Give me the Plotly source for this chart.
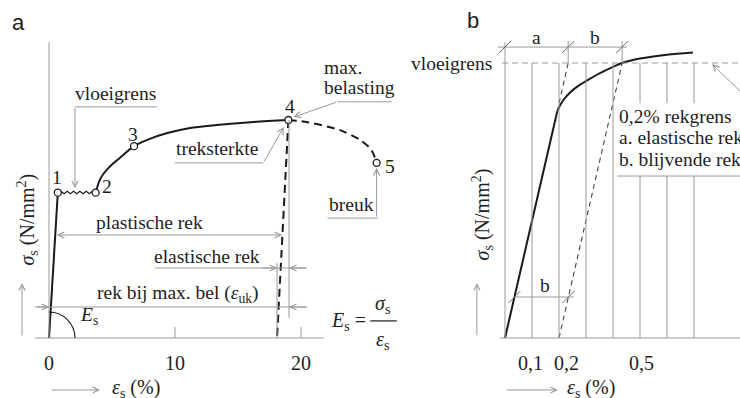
import plotly.graph_objects as go

# ---------------- data : panel a (full stress-strain diagram) ----------------
a_elastic_eps = [0.0, 0.7]
a_elastic_sig = [0, 400]
a_plateau_eps = [0.7, 0.95, 1.2, 1.45, 1.7, 1.95, 2.2, 2.45, 2.7, 2.95, 3.2, 3.45, 3.7]
a_plateau_sig = [400, 404, 397, 404, 397, 404, 397, 404, 397, 404, 397, 404, 400]
a_harden_eps = [3.7, 4.1, 4.8, 5.6, 6.75, 8.0, 9.4, 11.2, 13.3, 16.0, 19.0]
a_harden_sig = [400, 440, 471, 495, 528, 548, 564, 578, 586, 594, 600]
a_neck_eps = [19.0, 20.5, 23.1, 24.7, 25.6, 26.0]
a_neck_sig = [600, 594, 572, 545, 517, 482]
a_unload_eps = [19.0, 18.1]
a_unload_sig = [600, 0]
a_point_eps = [0.7, 3.7, 6.75, 19.0, 26.0]
a_point_sig = [400, 400, 528, 600, 482]
a_point_lbl = ["1", "2", "3", "4", "5"]
a_xticks = [0, 10, 20]
a_xtick_text = ["0", "10", "20"]

# ---------------- data : panel b (0,2% proof stress detail) ----------------
b_elastic_eps = [0.0, 0.193]
b_elastic_sig = [0, 411]
b_curve_eps = [0.193, 0.205, 0.220, 0.240, 0.270, 0.300, 0.350, 0.400, 0.434, 0.500, 0.600, 0.696]
b_curve_sig = [411, 424, 435, 446, 458, 467, 481, 493, 500, 508, 515, 519]
b_ext_eps = [0.193, 0.234]
b_ext_sig = [411, 500]
b_offset_eps = [0.2, 0.434]
b_offset_sig = [0, 500]
b_yield = 500
b_grid = [0.1, 0.2, 0.3, 0.4, 0.5, 0.6, 0.7]
b_xticks = [0.1, 0.2, 0.5]
b_xtick_text = ["0,1", "0,2", "0,5"]

# ---------------- styling ----------------
SERIF = "Liberation Serif"
SANS = "Liberation Sans"
TXT = "#1e1e1e"
GRAY = "#9a9a9a"
BLACK = "#1a1a1a"
FS = 19.5

fig = go.Figure()

def tr(x, y, ax, width=2, dash=None, color=BLACK, shape="linear"):
    xa, ya = ("x", "y") if ax == "a" else ("x2", "y2")
    fig.add_trace(go.Scatter(x=x, y=y, xaxis=xa, yaxis=ya, mode="lines",
                             line=dict(color=color, width=width, dash=dash, shape=shape,
                                       smoothing=0.8),
                             hoverinfo="skip", showlegend=False))

# panel a curves
tr(a_elastic_eps, a_elastic_sig, "a", 2)
tr(a_plateau_eps, a_plateau_sig, "a", 1.1)
tr(a_harden_eps, a_harden_sig, "a", 2, shape="spline")
tr(a_neck_eps, a_neck_sig, "a", 2, "8px,5px", shape="spline")
tr(a_unload_eps, a_unload_sig, "a", 2, "8px,5px")
fig.add_trace(go.Scatter(x=a_point_eps, y=a_point_sig, xaxis="x", yaxis="y", mode="markers",
                         marker=dict(symbol="circle", size=7, color="white",
                                     line=dict(color=BLACK, width=1.3)),
                         hoverinfo="skip", showlegend=False))
# panel b curves
tr(b_elastic_eps, b_elastic_sig, "b", 2)
tr(b_curve_eps, b_curve_sig, "b", 2, shape="spline")
tr(b_ext_eps, b_ext_sig, "b", 1.1, "5px,4px", "#444")
tr(b_offset_eps, b_offset_sig, "b", 1.1, "5px,4px", "#444")

shapes = []
annos = []

def ref(ax):
    return ("x", "y") if ax == "a" else ("x2", "y2")

def seg(ax, x0, y0, x1, y1, color=GRAY, width=1, dash=None):
    xr, yr = ref(ax)
    shapes.append(dict(type="line", xref=xr, yref=yr, x0=x0, y0=y0, x1=x1, y1=y1,
                       line=dict(color=color, width=width, dash=dash)))

def text(ax, x, y, s, size=FS, xanchor="center", yanchor="middle", angle=0, font=SERIF, xshift=0):
    if ax == "paper":
        xr, yr = "paper", "paper"
    else:
        xr, yr = ref(ax)
    annos.append(dict(xref=xr, yref=yr, x=x, y=y, text=s, showarrow=False,
                      xanchor=xanchor, yanchor=yanchor, textangle=angle, xshift=xshift,
                      font=dict(family=font, size=size, color=TXT)))

def arrow(ax, xt, yt, xs, ys, both=False, size=1.2):
    xr, yr = ref(ax)
    annos.append(dict(xref=xr, yref=yr, axref=xr, ayref=yr, x=xt, y=yt, ax=xs, ay=ys,
                      text="", showarrow=True, arrowhead=5, startarrowhead=5,
                      arrowside="end+start" if both else "end",
                      arrowsize=size, startarrowsize=size, arrowwidth=1,
                      arrowcolor=GRAY, standoff=0, startstandoff=0))

# ---------- panel a decorations ----------
seg("a", -1.1, 0, 21.8, 0)
seg("a", 0, 0, 0, 815)
for t, lab in zip(a_xticks, a_xtick_text):
    if t != 0:
        seg("a", t, 0, t, 30)
    text("a", t, -69, lab, size=20)
# extension lines
seg("a", a_unload_eps[1], 0, a_unload_eps[1], 206)
seg("a", 19.05, 55, 19.05, 600)
# plastische rek
arrow("a", 18.5, 283.5, 0.5, 283.5, both=True)
text("a", 8.0, 318, "plastische rek")
# elastische rek
seg("a", 8.4, 192.7, 20.5, 192.7)
arrow("a", 18.1, 192.7, 16.8, 192.7)
arrow("a", 19.05, 192.7, 20.5, 192.7)
text("a", 16.9, 225, "elastische rek", xanchor="right")
# rek bij max. bel
seg("a", -1.1, 85.3, 20.5, 85.3)
arrow("a", 0, 85.3, -1.1, 85.3)
arrow("a", 19.05, 85.3, 20.5, 85.3)
text("a", 10.24, 120, "rek bij max. bel (<i>ε</i><sub>uk</sub>)")
# E_s arc
shapes.append(dict(type="path", xref="x", yref="y",
                   path="M 0,71.56 C 1.139,71.56 2.063,39.52 2.063,0",
                   line=dict(color=BLACK, width=1.1)))
text("a", 2.3, 60, "<i>E</i><sub>s</sub>", xanchor="left")
# treksterkte
seg("a", 10.0, 482, 17.0, 482)
arrow("a", 18.65, 581, 17.0, 482)
text("a", 13.3, 522, "treksterkte")
# vloeigrens
seg("a", 2.06, 636, 8.57, 636)
arrow("a", 2.06, 412, 2.06, 636)
text("a", 5.3, 674, "vloeigrens")
# max. belasting
seg("a", 22.9, 650, 27.2, 650)
arrow("a", 19.4, 608, 22.9, 650)
text("a", 21.67, 745, "max.", xanchor="left")
text("a", 21.67, 690, "belasting", xanchor="left")
# breuk
seg("a", 22.1, 330, 26.1, 330)
arrow("a", 26.0, 468, 26.0, 330)
text("a", 24.0, 368, "breuk")
# point labels
lbl_off = [(-0.07, 43), (0.9, 16), (-0.08, 31), (0.1, 36), (1.1, -11)]
for e, s, l, (dx, dy) in zip(a_point_eps, a_point_sig, a_point_lbl, lbl_off):
    text("a", e + dx, s + dy, l)
# formula E_s = sigma_s / eps_s
text("a", 25.3, 46, "<i>E</i><sub>s</sub> =", xanchor="right", size=20)
seg("a", 25.5, 47, 27.6, 47, color=BLACK, width=1.2)
text("a", 26.5, 93, "<i>σ</i><sub>s</sub>", size=20)
text("a", 26.5, -8, "<i>ε</i><sub>s</sub>", size=20)
# axis titles
arrow("a", 4.05, -143, 0.08, -143)
text("a", 4.84, -140, "<i>ε</i><sub>s</sub> (%)", xanchor="left", size=20)
arrow("a", -2.14, 151, -2.14, 3)
text("a", -1.7, 325, "<i>σ</i><sub>s</sub> (N/mm<sup>2</sup>)", angle=-90, size=20)

# ---------- panel b decorations ----------
seg("b", -0.0185, 0, 0.875, 0)
seg("b", 0, 0, 0, 538)
for g in b_grid:
    seg("b", g, 0, g, b_yield)
seg("b", -0.011, b_yield, 0.875, b_yield, dash="6px,4px")
text("b", -0.041, b_yield, "vloeigrens", xanchor="right")
# white label box covering grid lines
shapes.append(dict(type="rect", xref="x2", yref="y2", x0=0.4074, y0=294.5, x1=0.9, y1=427,
                   fillcolor="white", line=dict(width=0)))
seg("b", 0.415, 294.5, 0.9, 294.5)
text("b", 0.415, 402, "0,2% rekgrens", xanchor="left")
text("b", 0.415, 364, "a. elastische rek", xanchor="left")
text("b", 0.415, 325, "b. blijvende rek", xanchor="left")
arrow("b", 0.767, 498, 0.889, 440)
# top dimension a | b
seg("b", -0.026, 529, 0.452, 529)
for xt in [0.0, b_ext_eps[1], b_offset_eps[1]]:
    seg("b", xt - 0.022, 529 - 10.9, xt + 0.022, 529 + 10.9, color="#666")
for xt in [b_ext_eps[1], b_offset_eps[1]]:
    seg("b", xt, b_yield, xt, 540)
text("b", 0.117, 547, "a")
text("b", 0.334, 547, "b")
# bottom dimension b
seg("b", 0.0296, 74.5, 0.2556, 74.5)
for xt in [0.0349, 0.2349]:
    seg("b", xt - 0.022, 74.5 - 10.9, xt + 0.022, 74.5 + 10.9, color="#666")
text("b", 0.148, 96, "b")
# ticks
for t, lab, sh in zip(b_xticks, b_xtick_text, [-2, 7, 1]):
    text("b", t, -45.5, lab, size=20, xshift=sh)
# axis titles
arrow("b", 0.196, -94.5, 0.0, -94.5)
text("b", 0.222, -92.5, "<i>ε</i><sub>s</sub> (%)", xanchor="left", size=20)
arrow("b", -0.104, 100, -0.104, 2)
text("b", -0.083, 224, "<i>σ</i><sub>s</sub> (N/mm<sup>2</sup>)", angle=-90, size=20)

# panel letters
text("paper", 18 / 740, 1 - 22 / 398, "a", size=22, font=SANS)
text("paper", 473 / 740, 1 - 20 / 398, "b", size=22, font=SANS)

hidden = dict(visible=False, showgrid=False, zeroline=False, fixedrange=True)
fig.update_layout(
    width=740, height=398, autosize=False,
    margin=dict(l=0, r=0, t=0, b=0),
    paper_bgcolor="white", plot_bgcolor="white",
    showlegend=False,
    font=dict(family=SERIF),
    xaxis=dict(domain=[0, 1], range=[-49 / 12.6, 691 / 12.6], **hidden),
    yaxis=dict(domain=[0, 1], range=[-60 * 600 / 218, 338 * 600 / 218], **hidden),
    xaxis2=dict(domain=[0, 1], range=[-505 / 270, 235 / 270], overlaying="x", anchor="y2", **hidden),
    yaxis2=dict(domain=[0, 1], range=[-60 / 0.55, 338 / 0.55], overlaying="y", anchor="x2", **hidden),
    shapes=shapes, annotations=annos,
)
fig.write_html("out.html")
